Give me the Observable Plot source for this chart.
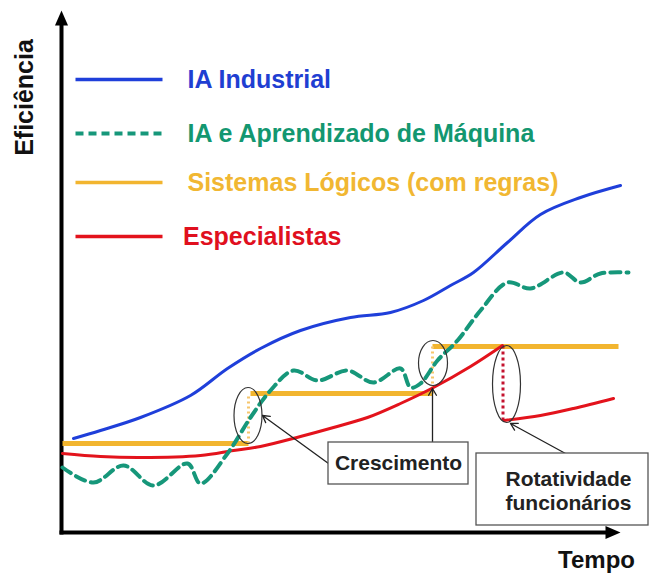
<!DOCTYPE html>
<html><head><meta charset="utf-8">
<script src="https://cdn.jsdelivr.net/npm/d3@7"></script>
<script src="https://cdn.jsdelivr.net/npm/@observablehq/plot@0.6"></script>
<style>body{margin:0;background:#fff}#chart{width:652px;height:576px}</style>
</head><body><div id="chart"></div>
<script>
// ---- Data (time units 0..112, efficiency units 0..100) ----
const seriesNames = ["IA Industrial", "IA e Aprendizado de Máquina", "Sistemas Lógicos (com regras)", "Especialistas"];

const iaIndT = [2.4, 7.8, 15.8, 25.8, 33.2, 39.8, 47.8, 57.8, 65.8, 72.4, 77.8, 82.4, 89.2, 95.8, 103.8, 111.8];
const iaIndE = [18.8, 20.4, 23, 27.4, 32.8, 36.8, 40.4, 43, 44, 46.4, 49.4, 52, 58, 63.6, 67, 69.4];

const iaMlT = [0.2, 6.4, 12.4, 18.4, 25.2, 27.8, 33.2, 37.8, 41.8, 46.4, 51.2, 57.2, 62.4, 67.8, 69.8, 71.8, 75.2, 79.2, 83.8, 89.2, 93.8, 100.4, 103.8, 107.8, 113.4];
const iaMlE = [13, 10, 13.4, 9.4, 13.8, 9.8, 15.8, 23, 28.4, 32.4, 30.4, 32.4, 30, 32.8, 29, 29.8, 34.4, 38.4, 44.4, 50, 48.8, 52, 50, 51.8, 52];

const sysStartT = [0.2, 37.8, 74.2];
const sysEndT = [37.4, 74.2, 111.4];
const sysLevel = [17.8, 27.8, 37.2];

const espBeforeT = [0.2, 7.8, 15.8, 27.8, 34.4, 39.8, 47.8, 54.4, 61.2, 67.8, 74.4, 81.8, 88.2];
const espBeforeE = [15.8, 15.2, 15, 15.4, 16.4, 17.2, 19.2, 21, 23, 25.8, 29, 33.2, 37.4];
const espAfterT = [88.6, 95.8, 102.4, 110.4];
const espAfterE = [22.4, 23.4, 24.8, 26.8];

const ellipseT = [37.3, 74.3, 89];
const ellipseE = [23.4, 33.9, 29.7];

const calloutLabels = ["Crescimento", "Rotatividade\nfuncionários"];
const boxX1 = [53.4, 83], boxX2 = [81.4, 117.4], boxY1 = [9.6, 1.4], boxY2 = [18, 15.8];
const arrowFromT = [53.4, 74.2, 100.8], arrowFromE = [13.8, 18, 15.8];
const arrowToT = [40.2, 74.2, 89.8], arrowToE = [23.4, 28.8, 21.8];

const axisLabels = ["Tempo", "Eficiência"];

// ---- Styles ----
const C = {blue: "#1f3fda", green: "#16977a", orange: "#f2b52f", red: "#e3131c"};
const textC = {blue: "#1f3fd2", green: "#139770", orange: "#f1b732", red: "#e0101e"};
const FONT = "'Liberation Sans', Arial, Helvetica, sans-serif";

const pts = (T, E) => T.map((t, i) => ({t, e: E[i]}));
const iaInd = pts(iaIndT, iaIndE);
const iaMl = pts(iaMlT, iaMlE);
const espA = pts(espBeforeT, espBeforeE);
const espB = pts(espAfterT, espAfterE);
const sysSteps = sysLevel.map((l, i) => ({x1: sysStartT[i], x2: sysEndT[i], y: l}));
const sysRisers = sysLevel.slice(1).map((l, i) => ({x: sysEndT[i], y1: sysLevel[i], y2: l}));
const espDrop = [{x: espBeforeT[espBeforeT.length - 1] + 0.1, y1: espBeforeE[espBeforeE.length - 1], y2: espAfterE[0]}];
const ellipses = ellipseT.map((t, i) => ({t, e: ellipseE[i]}));
const boxes = calloutLabels.map((s, i) => ({x1: boxX1[i], x2: boxX2[i], y1: boxY1[i], y2: boxY2[i], label: s}));
const arrows = arrowFromT.map((t, i) => ({x1: t, y1: arrowFromE[i], x2: arrowToT[i], y2: arrowToE[i]}));

// legend layout (positions in chart units)
const legendY = [90.6, 79.8, 70, 59.2];
const legendColors = [C.blue, C.green, C.orange, C.red];
const legendText = [textC.blue, textC.green, textC.orange, textC.red];
const legendRows = seriesNames.map((n, i) => ({name: n, y: legendY[i], c: legendColors[i], tc: legendText[i], tx: i === 3 ? 24.3 : 25.2, dash: i === 1}));

function ellipseSymbol(rx, ry) {
  const k = 0.5523;
  return {draw(ctx) {
    ctx.moveTo(rx, 0);
    ctx.bezierCurveTo(rx, ry * k, rx * k, ry, 0, ry);
    ctx.bezierCurveTo(-rx * k, ry, -rx, ry * k, -rx, 0);
    ctx.bezierCurveTo(-rx, -ry * k, -rx * k, -ry, 0, -ry);
    ctx.bezierCurveTo(rx * k, -ry, rx, -ry * k, rx, 0);
    ctx.closePath();
  }};
}
const triUp = {draw(ctx) { ctx.moveTo(0, 0); ctx.lineTo(6.5, 15); ctx.lineTo(-6.5, 15); ctx.closePath(); }};
const triRight = {draw(ctx) { ctx.moveTo(0, 0); ctx.lineTo(-15, -6.5); ctx.lineTo(-15, 6.5); ctx.closePath(); }};
const ellipseSizes = [[14, 28], [14.5, 22.5], [14, 38.5]];

const chart = Plot.plot({
  width: 652, height: 576, margin: 0,
  x: {domain: [0, 112], range: [61, 621], axis: null},
  y: {domain: [0, 100], range: [532, 32], axis: null},
  color: {type: "identity"},
  style: {background: "#fff", fontFamily: FONT},
  marks: [
    // axes
    Plot.link([{x1: 0, y1: 0, x2: 0, y2: 101.8}, {x1: 0, y1: 0, x2: 109, y2: 0}], {x1: "x1", y1: "y1", x2: "x2", y2: "y2", stroke: "#000", strokeWidth: 4, strokeLinecap: "square"}),
    Plot.dot([{t: 0, e: 104.4}], {x: "t", y: "e", symbol: triUp, fill: "#000", stroke: "none"}),
    Plot.dot([{t: 111.8, e: 0}], {x: "t", y: "e", symbol: triRight, fill: "#000", stroke: "none"}),
    // Sistemas lógicos steps
    Plot.link(sysSteps, {x1: "x1", x2: "x2", y1: "y", y2: "y", stroke: C.orange, strokeWidth: 5, strokeLinecap: "butt"}),
    Plot.link(sysRisers, {x1: "x", x2: "x", y1: "y1", y2: "y2", stroke: "#f6c66c", strokeWidth: 3, strokeDasharray: "2,3"}),
    // Especialistas
    Plot.line(espA, {x: "t", y: "e", stroke: C.red, strokeWidth: 3, curve: "catmull-rom"}),
    Plot.line(espB, {x: "t", y: "e", stroke: C.red, strokeWidth: 3, curve: "catmull-rom"}),
    Plot.link(espDrop, {x1: "x", x2: "x", y1: "y1", y2: "y2", stroke: "#c4122e", strokeWidth: 3, strokeDasharray: "3,3"}),
    // IA Industrial
    Plot.line(iaInd, {x: "t", y: "e", stroke: C.blue, strokeWidth: 3, curve: "catmull-rom"}),
    // IA e Aprendizado
    Plot.line(iaMl, {x: "t", y: "e", stroke: C.green, strokeWidth: 4, strokeDasharray: "10,6", curve: "catmull-rom"}),
    // ellipses
    ...ellipses.map((d, i) => Plot.dot([d], {x: "t", y: "e", symbol: ellipseSymbol(...ellipseSizes[i]), fill: "none", stroke: "#333", strokeWidth: 1.2})),
    // callouts
    Plot.arrow(arrows, {x1: "x1", y1: "y1", x2: "x2", y2: "y2", stroke: "#222", strokeWidth: 1.3, headLength: 9}),
    Plot.rect(boxes, {x1: "x1", x2: "x2", y1: "y1", y2: "y2", fill: "#fff", stroke: "#555", strokeWidth: 1.3}),
    Plot.text([boxes[0]], {x: 67.4, y: 13.8, text: "label", fontSize: 21, fontWeight: "bold", fill: "#222", lineAnchor: "middle"}),
    Plot.text([boxes[1]], {x: 101.4, y: 8.4, text: "label", fontSize: 21, fontWeight: "bold", fill: "#222", lineAnchor: "middle", lineHeight: 1.15}),
    // legend
    Plot.link(legendRows.filter(d => !d.dash), {x1: 2.8, x2: 20.2, y1: "y", y2: "y", stroke: "c", strokeWidth: 3.5}),
    Plot.link(legendRows.filter(d => d.dash), {x1: 2.8, x2: 20.2, y1: "y", y2: "y", stroke: "c", strokeWidth: 4, strokeDasharray: "8,5"}),
    Plot.text(legendRows, {x: "tx", y: "y", text: "name", fill: "tc", fontSize: 25, fontWeight: "bold", textAnchor: "start", lineAnchor: "middle"}),
    // axis labels
    Plot.text([axisLabels[0]], {x: 107, y: -5.6, text: d => d, fontSize: 24, fontWeight: "bold", fill: "#111", lineAnchor: "middle"}),
    Plot.text([axisLabels[1]], {x: -7.4, y: 87, text: d => d, rotate: -90, fontSize: 25, fontWeight: "bold", fill: "#111", lineAnchor: "middle"})
  ]
});
document.getElementById("chart").appendChild(chart);
</script>
</body></html>
